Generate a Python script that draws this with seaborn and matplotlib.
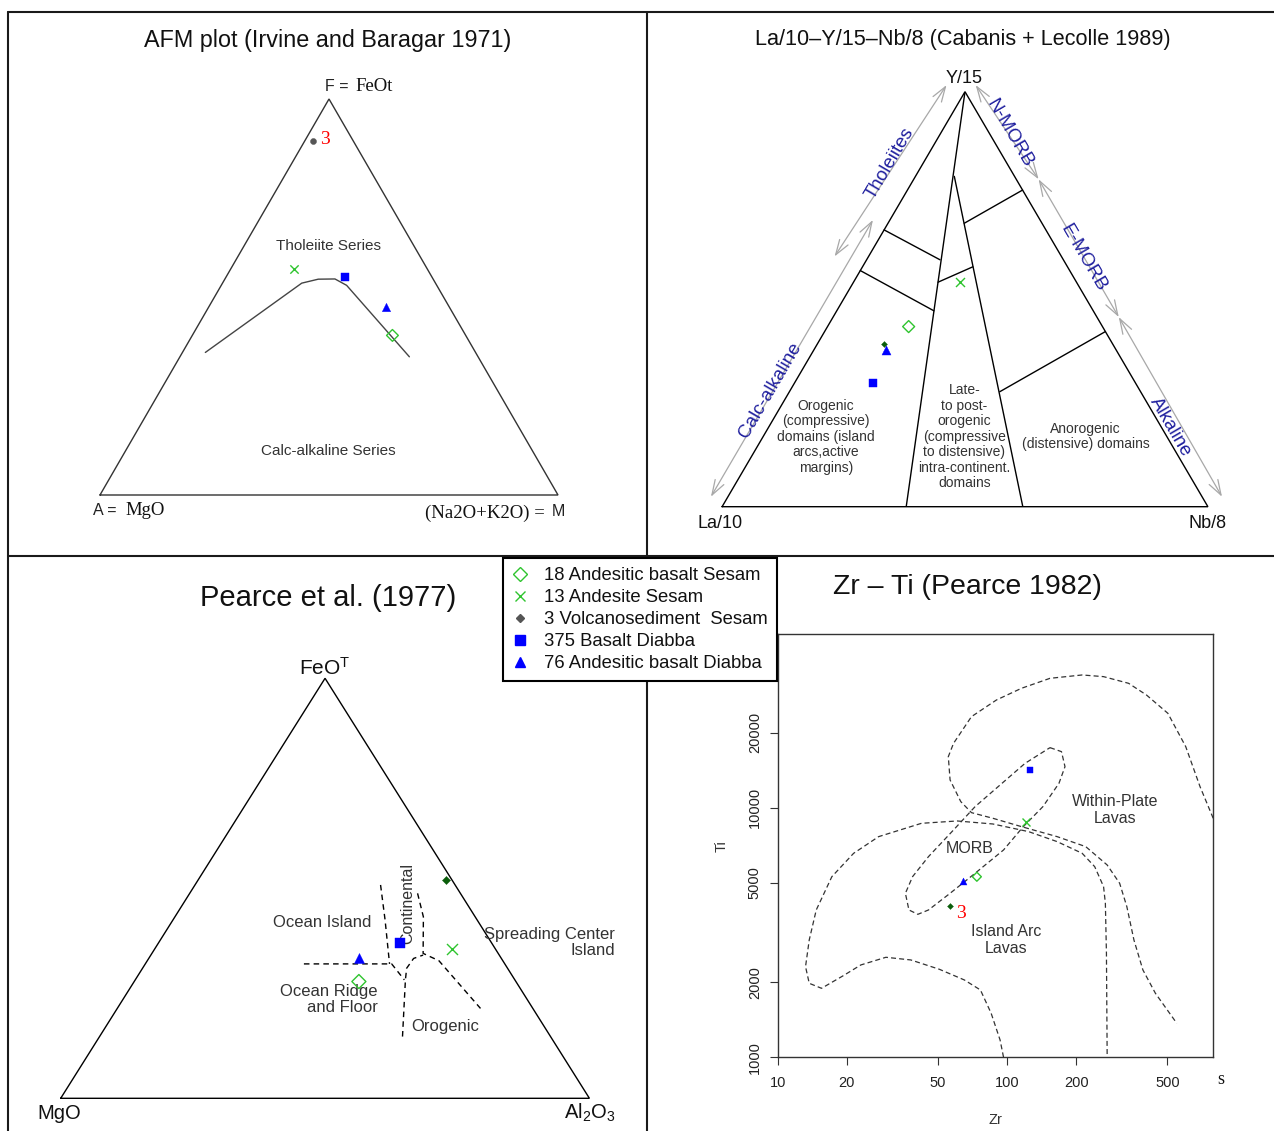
import numpy as np
import pandas as pd
import matplotlib
matplotlib.use("Agg")
import matplotlib.pyplot as plt
from matplotlib.lines import Line2D
from matplotlib.ticker import NullLocator, FixedLocator, FixedFormatter
import seaborn as sns

# ------------------------------------------------------------------ data
series = ["18 Andesitic basalt Sesam", "13 Andesite Sesam",
          "3 Volcanosediment  Sesam", "375 Basalt Diabba",
          "76 Andesitic basalt Diabba"]

# AFM plot (Irvine & Baragar 1971) : corner fractions (left A, right M, top F)
afm_A = [0.160, 0.292, 0.089, 0.190, 0.139]
afm_M = [0.437, 0.138, 0.018, 0.260, 0.386]
afm_F = [0.403, 0.570, 0.893, 0.550, 0.475]
afm_curve_A = [0.590, 0.292, 0.251, 0.214, 0.197, 0.150]
afm_curve_M = [0.050, 0.173, 0.204, 0.240, 0.274, 0.501]
afm_curve_F = [0.360, 0.535, 0.545, 0.545, 0.530, 0.349]

# La/10 - Y/15 - Nb/8 (Cabanis & Lecolle 1989) : (La/10, Nb/8, Y/15)
cl_La = [0.399, 0.238, 0.471, 0.540, 0.473]
cl_Nb = [0.167, 0.219, 0.137, 0.162, 0.149]
cl_Y = [0.434, 0.542, 0.392, 0.299, 0.378]
cl_fields = [
    [(0.000, 0.000, 1.000), (0.621, 0.379, 0.000)],
    [(0.124, 0.080, 0.796), (0.381, 0.619, 0.000)],
    [(0.333, 0.000, 0.667), (0.254, 0.151, 0.595)],
    [(0.431, 0.000, 0.569), (0.328, 0.200, 0.472)],
    [(0.160, 0.157, 0.683), (0.000, 0.237, 0.763)],
    [(0.285, 0.174, 0.541), (0.195, 0.227, 0.578)],
    [(0.290, 0.433, 0.277), (0.000, 0.578, 0.422)],
]
cl_arrow_names = ["Calc-alkaline", "Tholeiites", "N-MORB", "E-MORB", "Alkaline"]
cl_arrows = [
    [(1.011, -0.035, 0.024), (0.344, -0.035, 0.691)],
    [(0.467, -0.070, 0.603), (0.030, -0.046, 1.016)],
    [(-0.030, 0.014, 1.016), (-0.046, 0.257, 0.789)],
    [(-0.046, 0.257, 0.789), (-0.045, 0.588, 0.457)],
    [(-0.045, 0.588, 0.457), (-0.041, 1.017, 0.024)],
]

# Pearce et al. (1977) : (MgO, Al2O3, FeOT)
p77_Mg = [0.297, 0.083, 0.011, 0.174, 0.269]
p77_Al = [0.425, 0.562, 0.469, 0.456, 0.398]
p77_Fe = [0.278, 0.355, 0.520, 0.370, 0.333]
p77_fields = [
    [(0.380, 0.300, 0.320), (0.214, 0.466, 0.320), (0.209, 0.509, 0.282)],
    [(0.141, 0.351, 0.508), (0.174, 0.401, 0.425), (0.218, 0.462, 0.320)],
    [(0.081, 0.431, 0.488), (0.098, 0.470, 0.432), (0.142, 0.513, 0.345),
     (0.121, 0.552, 0.328), (0.099, 0.687, 0.214)],
    [(0.280, 0.573, 0.147), (0.207, 0.511, 0.282), (0.191, 0.500, 0.310),
     (0.166, 0.501, 0.333), (0.144, 0.515, 0.341)],
]

# Zr - Ti (Pearce 1982)
zr = [73.8, 120.5, 56.4, 126.4, 63.9]
ti = [5290, 8790, 4039, 14160, 5086]
wpl_zr = [793, 694.7, 601.8, 502.9, 405.5, 338.9, 263.6, 212.6, 153.9, 115.5, 89.9,
          69.9, 58.4, 55.4, 56.4, 62.8, 69.9, 86.7, 115.5, 165.4, 220.4, 273.3,
          309.8, 333.0, 357.6, 391.3, 443.7, 550.2]
wpl_ti = [9070, 12146, 17563, 23887, 28290, 31504, 33503, 34023, 32991, 30084, 27020,
          23160, 18113, 16018, 12915, 10576, 9555, 9070, 8398, 7656, 6982, 5896,
          4980, 4015, 2952, 2239, 1805, 1368]
morb_zr = [153.9, 172.7, 178.9, 168.4, 143.3, 117.7, 96.5, 72.5, 56.4, 45.4, 40.8,
           37.3, 36.0, 38.7, 45.4, 58.4, 72.5, 93.2, 119.8, 153.9]
morb_ti = [17405, 16771, 14602, 12524, 10099, 8398, 6771, 5461, 4540, 3893, 3740,
           3893, 4540, 5295, 6368, 8145, 10099, 12333, 15060, 17405]
iab_zr = [96.5, 93.2, 85.2, 76.5, 65.1, 50.6, 38.0, 29.6, 23.0, 19.2, 15.5, 13.7,
          13.2, 13.7, 14.7, 17.2, 21.4, 27.5, 42.3, 60.6, 86.7, 124.1, 165.4, 212.6,
          241.1, 263.6, 268.4, 271.3, 273.3]
iab_ti = [1000, 1173, 1501, 1861, 2041, 2253, 2455, 2516, 2344, 2118, 1890, 1979,
          2308, 2952, 3893, 5295, 6566, 7656, 8659, 8848, 8605, 8020, 7312, 6566,
          5806, 4829, 4140, 2611, 1000]
zr_ticks = [10, 20, 50, 100, 200, 500]
ti_ticks = [1000, 2000, 5000, 10000, 20000]

# ------------------------------------------------------------------ style
sns.set_theme(style="ticks")
plt.rcParams["font.family"] = ["Liberation Sans", "DejaVu Sans"]
plt.rcParams["mathtext.default"] = "regular"
SERIF = ["Liberation Serif", "DejaVu Serif"]
NARROW = ["Liberation Sans Narrow", "Liberation Sans"]
GREEN = "#2fc42f"
BLUE = "#0000ff"
DKGREEN = "#0b5e0b"
GRAY = "#555555"
NAVY = "#1f1f9e"
TXT = "#333333"

W, H = 1274, 1131
fig = plt.figure(figsize=(W / 100, H / 100), dpi=100)
fig.patch.set_facecolor("white")


def add_px_axes(x0, x1, y0, y1):
    return fig.add_axes([x0 / W, 1 - y1 / H, (x1 - x0) / W, (y1 - y0) / H])


def tern_xy(left, right, top):
    left, right, top = (np.asarray(v, float) for v in (left, right, top))
    tot = left + right + top
    r, t = right / tot, top / tot
    return r + t / 2.0, t


def setup_tern(ax, color="black", lw=1.0):
    ax.set_xlim(0, 1)
    ax.set_ylim(0, 1)
    ax.set_axis_off()
    cx, cy = tern_xy([1, 0, 0, 1], [0, 1, 0, 0], [0, 0, 1, 0])
    ax.plot(cx, cy, color=color, lw=lw, clip_on=False, solid_joinstyle="miter")


def draw_points(ax, xs, ys, sizes, volc_marker, volc_color):
    specs = [("D", GREEN, True), ("x", GREEN, False), (volc_marker, volc_color, False),
             ("s", BLUE, False), ("^", BLUE, False)]
    for i, (mk, col, hollow) in enumerate(specs):
        df = pd.DataFrame({"x": [xs[i]], "y": [ys[i]]})
        if mk == "x":
            sns.scatterplot(data=df, x="x", y="y", ax=ax, marker="x", color=col,
                            s=sizes[i], linewidth=1.0, legend=False, zorder=5,
                            clip_on=False)
        else:
            sns.scatterplot(data=df, x="x", y="y", ax=ax, marker=mk, color=col,
                            s=sizes[i], linewidth=1.0 if hollow else 0.3,
                            edgecolor=col, legend=False, zorder=5, clip_on=False)
            if hollow:
                ax.collections[-1].set_facecolor("none")
                ax.collections[-1].set_edgecolor(col)
    ax.set_xlabel("")
    ax.set_ylabel("")


def ftext(x, y, s, **kw):
    fig.text(x / W, 1 - y / H, s, **kw)


# ------------------------------------------------------------------ frame
for (x0, y0, x1, y1) in [(8.3, 11.7, W, 11.7), (8.3, 11.7, 8.3, H),
                         (8.3, 556, W, 556), (647, 11.7, 647, H)]:
    fig.add_artist(Line2D([x0 / W, x1 / W], [1 - y0 / H, 1 - y1 / H],
                          transform=fig.transFigure, color="#1a1a1a", lw=1.5))

# ------------------------------------------------------------------ panel 1: AFM
ax1 = add_px_axes(100, 558, 99, 495)
setup_tern(ax1, color="#333333", lw=1.0)
cx, cy = tern_xy(afm_curve_A, afm_curve_M, afm_curve_F)
ax1.plot(cx, cy, color="#444444", lw=1.0)
px, py = tern_xy(afm_A, afm_M, afm_F)
draw_points(ax1, px, py, [36, 36, 19, 28, 36], "o", GRAY)
ax1.set_xlim(0, 1); ax1.set_ylim(0, 1)
ax1.text(0.4913, 0.8982, "3", color="red", family=SERIF, fontsize=14,
         ha="center", va="center")
ax1.text(0.4985, 0.6295, "Tholeiite Series", ha="center", va="center",
         fontsize=11, color=TXT)
ax1.text(0.4985, 0.1111, "Calc-alkaline Series", ha="center", va="center",
         fontsize=11, color=TXT)
ax1.text(0.5415, 1.0328, "F =", ha="right", va="center", fontsize=11.5, color="#222222")
ax1.text(0.5568, 1.0328, "FeOt", ha="left", va="center", fontsize=13.5,
         family=SERIF, color="#111111")
ax1.text(-0.0146, -0.0396, "A =", ha="left", va="center", fontsize=11.5, color="#222222")
ax1.text(0.0546, -0.0396, "MgO", ha="left", va="center", fontsize=13.5,
         family=SERIF, color="#111111")
ax1.text(0.9716, -0.0455, "(Na2O+K2O) =", ha="right", va="center", fontsize=13.5,
         family=SERIF, color="#111111")
ax1.text(0.9862, -0.0422, "M", ha="left", va="center", fontsize=11.5, color="#222222")
ftext(328, 41, "AFM plot (Irvine and Baragar 1971)", ha="center", va="center",
      fontsize=16.8, color="#111111")

# ------------------------------------------------------------------ panel 2: Cabanis
ax2 = add_px_axes(722.1, 1207.9, 91.7, 506.7)
setup_tern(ax2, color="black", lw=1.0)
for seg in cl_fields:
    a = np.array(seg)
    sx, sy = tern_xy(a[:, 0], a[:, 1], a[:, 2])
    ax2.plot(sx, sy, color="black", lw=1.0)
p0 = ax2.transData.transform((0, 0))
p1 = ax2.transData.transform((0.5, 1))
ang = np.degrees(np.arctan2(p1[1] - p0[1], p1[0] - p0[0]))
for seg in cl_arrows:
    a = np.array(seg)
    sx, sy = tern_xy(a[:, 0], a[:, 1], a[:, 2])
    ax2.annotate("", xy=(sx[1], sy[1]), xytext=(sx[0], sy[0]),
                 arrowprops=dict(arrowstyle="<->,head_length=0.9,head_width=0.3",
                                 color="#a8a8a8", lw=0.9, shrinkA=0, shrinkB=0),
                 annotation_clip=False)
arrow_label_pos = [(0.0994, 0.2812, ang), (0.3456, 0.8282, ang),
                   (0.5918, 0.8998, -ang), (0.7427, 0.5986, -ang),
                   (0.9228, 0.1928, -ang)]
for name, (lx, ly, rot) in zip(cl_arrow_names, arrow_label_pos):
    ax2.text(lx, ly, name, rotation=rot, rotation_mode="anchor", ha="center",
             va="center", fontsize=13.5, color=NAVY)
px, py = tern_xy(cl_La, cl_Nb, cl_Y)
draw_points(ax2, px, py, [37, 42, 9, 37, 42], "D", DKGREEN)
ax2.set_xlim(0, 1); ax2.set_ylim(0, 1)
ax2.text(0.2133, 0.1687, "Orogenic\n(compressive)\ndomains (island\narcs,active\nmargins)",
         ha="center", va="center", multialignment="center", fontsize=10,
         linespacing=1.13, color=TXT)
ax2.text(0.4986, 0.1687,
         "Late-\nto post-\norogenic\n(compressive\nto distensive)\nintra-continent.\ndomains",
         ha="center", va="center", multialignment="center", fontsize=10,
         linespacing=1.13, color=TXT)
ax2.text(0.7485, 0.1687, "Anorogenic\n(distensive) domains", ha="center", va="center",
         multialignment="center", fontsize=10, linespacing=1.13, color=TXT)
ax2.text(0.4986, 1.0323, "Y/15", ha="center", va="center", fontsize=13, color="#111111")
ax2.text(-0.0035, -0.04, "La/10", ha="center", va="center", fontsize=13, color="#111111")
ax2.text(1.0, -0.04, "Nb/8", ha="center", va="center", fontsize=13, color="#111111")
ftext(962.5, 40, "La/10–Y/15–Nb/8 (Cabanis + Lecolle 1989)", ha="center", va="center",
      fontsize=15.6, color="#111111")

# ------------------------------------------------------------------ panel 3: Pearce 1977
ax3 = add_px_axes(60.7, 589.4, 678.3, 1098.3)
setup_tern(ax3, color="black", lw=1.0)
for seg in p77_fields:
    a = np.array(seg)
    sx, sy = tern_xy(a[:, 0], a[:, 1], a[:, 2])
    ax3.plot(sx, sy, color="black", lw=1.0, ls=(0, (4, 3)))
px, py = tern_xy(p77_Mg, p77_Al, p77_Fe)
draw_points(ax3, px, py, [51, 63, 17, 52, 52], "D", DKGREEN)
ax3.set_xlim(0, 1); ax3.set_ylim(0, 1)
ax3.text(0.499, 1.0238, "FeO$^{T}$", ha="center", va="center", fontsize=15, color="#111111")
ax3.text(-0.0023, -0.0357, "MgO", ha="center", va="center", fontsize=14.5, color="#111111")
ax3.text(1.0, -0.0357, "Al$_{2}$O$_{3}$", ha="center", va="center", fontsize=14.5,
         color="#111111")
ax3.text(0.4952, 0.4181, "Ocean Island", ha="center", va="center", fontsize=12, color=TXT)
ax3.text(0.656, 0.4643, "Continental", rotation=90, ha="center", va="center",
         fontsize=11.5, color=TXT)
ax3.text(1.0484, 0.3717, "Spreading Center\nIsland", ha="right", va="center",
         multialignment="right", fontsize=12, linespacing=1.1, color=TXT)
ax3.text(0.5992, 0.236, "Ocean Ridge\nand Floor", ha="right", va="center",
         multialignment="right", fontsize=12, linespacing=1.1, color=TXT)
ax3.text(0.7269, 0.1721, "Orogenic", ha="center", va="center", fontsize=12, color=TXT)
ftext(328, 598, "Pearce et al. (1977)", ha="center", va="center", fontsize=21,
      color="#111111")

# ------------------------------------------------------------------ panel 4: Zr-Ti
ax4 = add_px_axes(777.9, 1213.2, 634, 1057.3)
ax4.set_xscale("log")
ax4.set_yscale("log")
for cz, ct in [(wpl_zr, wpl_ti), (morb_zr, morb_ti), (iab_zr, iab_ti)]:
    ax4.plot(cz, ct, color="#333333", lw=0.9, ls=(0, (4, 2.5)))
draw_points(ax4, zr, ti, [21, 33, 9, 19, 25], "D", DKGREEN)
ax4.set_xlim(10, 793)
ax4.set_ylim(1000, 49650)
ax4.xaxis.set_major_locator(FixedLocator(zr_ticks))
ax4.xaxis.set_major_formatter(FixedFormatter([str(v) for v in zr_ticks]))
ax4.yaxis.set_major_locator(FixedLocator(ti_ticks))
ax4.yaxis.set_major_formatter(FixedFormatter([str(v) for v in ti_ticks]))
ax4.xaxis.set_minor_locator(NullLocator())
ax4.yaxis.set_minor_locator(NullLocator())
ax4.tick_params(axis="both", which="major", direction="out", length=5.5, width=0.8,
                color="#333333", labelsize=10.5, labelcolor="#222222",
                bottom=True, left=True, top=False, right=False)
ax4.tick_params(axis="x", pad=8)
ax4.tick_params(axis="y", pad=6)
for lab in ax4.get_yticklabels():
    lab.set_rotation(90)
    lab.set_va("center")
for sp in ax4.spines.values():
    sp.set_color("#333333")
    sp.set_linewidth(1.0)
ax4.set_xlabel("Zr", fontsize=10.5, color=TXT)
ax4.set_ylabel("Ti", fontsize=10.5, color=TXT)
ax4.xaxis.set_label_coords(0.5, -0.148)
ax4.xaxis.label.set_va("center")
ax4.yaxis.set_label_coords(-0.1298, 0.5)
ax4.yaxis.label.set_va("center")
ax4.text(62.8, 3775, "3", color="red", family=SERIF, fontsize=14, ha="center", va="center")
ax4.text(295.7, 9790, "Within-Plate\nLavas", ha="center", va="center",
         multialignment="center", fontsize=11.5, family=NARROW, linespacing=1.15, color=TXT)
ax4.text(68.6, 6876, "MORB", ha="center", va="center", fontsize=11.5, family=NARROW,
         color=TXT)
ax4.text(99.3, 2951, "Island Arc\nLavas", ha="center", va="center",
         multialignment="center", fontsize=11.5, family=NARROW, linespacing=1.15, color=TXT)
ftext(1220.4, 1080, "s", ha="center", va="center", fontsize=13, family=SERIF, color="#111111")
ftext(967, 586.7, "Zr – Ti (Pearce 1982)", ha="center", va="center", fontsize=20.5,
      color="#111111")

# ------------------------------------------------------------------ legend
handles = [
    Line2D([], [], ls="none", marker="D", mfc="none", mec=GREEN, ms=7, mew=1.0),
    Line2D([], [], ls="none", marker="x", color=GREEN, ms=7, mew=1.0),
    Line2D([], [], ls="none", marker="D", color=GRAY, ms=4.5),
    Line2D([], [], ls="none", marker="s", color=BLUE, ms=6.5),
    Line2D([], [], ls="none", marker="^", color=BLUE, ms=7),
]
leg = fig.legend(handles, series, loc="upper left",
                 bbox_to_anchor=(503 / W, 1 - 558 / H), bbox_transform=fig.transFigure,
                 borderaxespad=0, frameon=True, fancybox=False, framealpha=1,
                 edgecolor="black", prop=dict(family="Liberation Sans", size=13.3),
                 borderpad=0.5, handlelength=0.8, handletextpad=0.92, labelspacing=0.27)
leg.get_frame().set_linewidth(1.5)
for t in leg.get_texts():
    t.set_color("#111111")

fig.savefig("out.png", dpi=100, facecolor="white")
